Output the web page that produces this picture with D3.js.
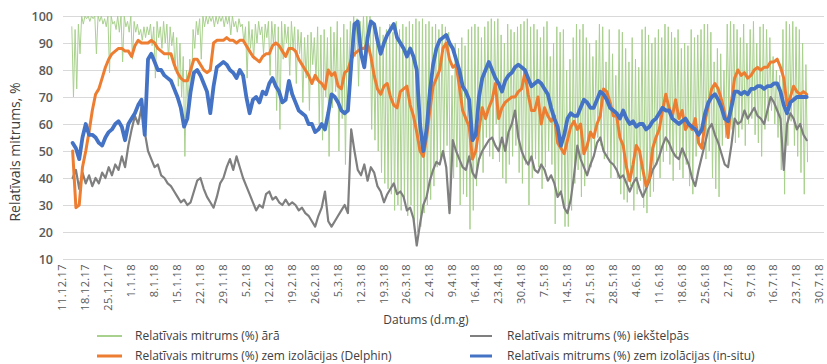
<!DOCTYPE html>
<html><head><meta charset="utf-8">
<script src="https://cdn.jsdelivr.net/npm/d3@7"></script>
<style>
body{margin:0;background:#fff;}
svg{display:block;font-family:"Open Sans",sans-serif;}
</style></head>
<body><svg id="c" width="827" height="364"></svg>
<script>
// first data day: 14.12.2017, one value per day (orange/blue/grey), green: night maximum + day minimum
const firstDay = "14.12.17";
const xTickLabels = ["11.12.17","18.12.17","25.12.17","1.1.18","8.1.18","15.1.18","22.1.18","29.1.18","5.2.18","12.2.18","19.2.18","26.2.18","5.3.18","12.3.18","19.3.18","26.3.18","2.4.18","9.4.18","16.4.18","23.4.18","30.4.18","7.5.18","14.5.18","21.5.18","28.5.18","4.6.18","11.6.18","18.6.18","25.6.18","2.7.18","9.7.18","16.7.18","23.7.18","30.7.18"];
const yTicks = [10,20,30,40,50,60,70,80,90,100];
const seriesNames = ["Relatīvais mitrums (%) ārā","Relatīvais mitrums (%) iekštelpās","Relatīvais mitrums (%) zem izolācijas (Delphin)","Relatīvais mitrums (%) zem izolācijas (in-situ)"];

const outdoorNight = [
96,95,97,100,100,100,100, 100,100,100,99,100,100,98, 100,100,100,98,100,98,97, 95,96,96,97,96,98,96,
98,97,96,94,92,90,85, 80,84,95,98,99,100,100, 100,100,100,100,100,100,100, 100,98,99,97,96,98,95,
97,98,96,97,98,98,97, 96,98,97,96,98,96,95, 94,92,93,94,92,96,93, 95,92,96,94,98,92,97,
95,98,100,99,98,100,100, 100,97,94,96,93,95,97, 94,98,95,97,96,98,97, 99,98,99,97,98,96,97,
95,97,96,94,78,90,88, 92,89,95,96,97,96,92, 96,98,99,98,99,93,90, 97,95,94,96,97,98,99,
96,97,95,92,96,98,85, 90,96,94,95,80,84,92, 97,95,97,92,90,85,91, 97,96,83,95,86,78,95,
94,88,83,92,84,81,95, 96,93,90,92,95,92,97, 96,94,92,95,88,90,89, 95,92,93,95,97,97,94,
83,88,86,80,97,98,97, 95,92,97,90,95,98,90, 96,97,95,92,85,80,78, 95,98,97,98,96,95,90, 82];
const outdoorDay = [
70,73,86,97,99,98,99, 86,98,97,96,79,97,95, 94,83,96,94,84,94,93, 91,92,93,89,77,92,88,
90,84,89,80,74,70,48, 65,71,88,93,84,96,97, 98,96,97,98,96,97,93, 96,94,96,90,77,88,84,
90,93,86,92,78,90,65, 58,84,90,78,88,75,86, 68,77,65,82,76,60,54, 70,48,66,72,50,62,45,
75,80,85,74,88,82,90, 58,54,50,42,38,36,34, 28,30,28,31,26,30,23, 20,22,27,30,32,37,44,
47,47,52,28,40,44,30, 34,33,21,28,37,47,42, 55,48,47,60,46,40,38, 45,48,52,42,38,45,30,
40,47,44,36,44,50,45, 23,33,35,22,22,28,38, 43,33,37,42,44,50,55, 52,47,48,40,45,40,34,
32,31,37,28,34,39,29, 27,33,35,45,40,46,50, 45,39,48,43,40,45,37, 34,48,53,52,47,50,40,
36,33,52,55,62,58,53, 55,58,52,60,62,56,53, 48,58,61,65,60,55,43, 34,52,61,52,48,42,34, 46];
const indoor = [
40,43,36,42,38,41,37, 40,38,42,40,44,41,45, 43,48,44,52,58,63,60, 66,57,50,47,44,45,41,
40,38,37,35,33,31,32, 30,31,35,39,40,36,33, 31,29,33,38,40,44,47, 43,48,44,40,37,34,31,
28,30,29,34,35,32,33, 31,30,32,30,31,30,28, 29,27,26,24,22,26,29, 35,24,22,24,26,28,30,
27,58,50,43,41,45,39, 44,42,37,35,31,34,36, 38,34,35,33,28,29,25, 15,23,30,33,39,43,46,
45,50,44,27,54,50,47, 44,43,48,42,40,47,50, 52,54,55,52,50,55,50, 57,60,65,55,50,47,45,
48,43,42,45,43,39,41, 38,33,35,29,27,32,41, 52,47,44,41,45,48,53, 55,50,48,46,45,43,40,
41,38,35,38,40,36,33, 36,39,43,45,48,52,55, 53,50,48,47,51,48,45, 40,37,43,48,53,58,60,
56,53,49,45,44,52,62, 60,61,65,62,64,66,63, 62,60,65,70,68,65,62, 43,60,64,62,58,60,56, 54];
const delphin = [
50,29,30,44,50,57,65, 71,73,77,81,84,86,87, 88,88,87,87,85,89,91, 90,90,90,91,90,88,87,
86,86,86,82,79,77,76, 76,80,84,84,82,80,79, 80,90,91,91,91,92,91, 91,90,91,91,89,87,85,
84,83,85,86,86,89,90, 89,87,85,88,88,87,84, 82,80,78,75,78,76,75, 73,80,78,79,74,73,79,
80,84,86,87,88,88,90, 85,78,73,71,74,75,70, 67,66,72,73,74,67,63, 57,50,48,55,65,74,77,
80,88,90,84,81,82,74, 65,62,59,47,50,58,66, 62,66,69,75,62,66,68, 69,70,70,72,73,79,71,
65,65,70,60,66,63,61, 63,53,51,49,54,59,61, 58,60,49,52,57,55,60, 63,73,72,68,63,63,55,
52,44,39,45,52,50,43, 37,40,51,55,58,65,71, 66,63,69,62,65,58,60, 58,62,53,51,61,67,73,
75,73,69,64,55,68,77, 80,78,79,77,78,80,81, 80,81,81,83,83,84,81, 77,67,70,74,72,71,72, 71];
const inSitu = [
53,51,47,55,60,56,56, 55,53,52,55,57,58,60, 61,59,54,60,62,64,67, 69,56,84,86,83,80,80,
78,77,76,73,70,66,59, 62,72,79,80,78,75,72, 64,74,81,82,83,82,80, 79,77,80,78,70,64,69,
70,68,72,71,75,77,74, 72,68,69,76,71,68,65, 64,63,60,60,57,58,60, 58,64,71,70,68,65,64,
65,82,97,98,86,81,92, 98,97,91,86,90,93,95, 97,92,90,88,85,88,85, 80,60,50,58,72,82,88,
91,92,93,90,88,84,80, 74,72,69,54,56,70,77, 80,83,80,77,75,72,76, 78,79,81,82,81,80,77,
74,75,76,75,73,71,66, 62,59,52,56,62,64,63, 63,66,69,68,66,66,69, 72,71,69,66,65,64,62,
65,62,60,61,59,60,60, 58,59,61,62,64,66,65, 65,62,61,60,61,62,60, 59,58,56,58,64,68,70,
71,69,66,62,61,66,72, 72,71,72,71,73,73,74, 74,73,74,74,75,75,72, 67,64,68,69,70,70,70, 70];

const colors = ["#a9d18e","#7f7f7f","#ed7d31","#4472c4"];
const widths = [1,2.2,3,3.8];

const parse = d3.utcParse("%d.%m.%y");
const t0 = parse(firstDay);
const dayDate = (i, frac) => new Date(t0.getTime() + (i + (frac||0)) * 864e5);

const svg = d3.select("#c");
const x = d3.scaleUtc().domain([parse(xTickLabels[0]), parse(xTickLabels[xTickLabels.length-1])]).range([62, 819]);
const y = d3.scaleLinear().domain([10,100]).range([259,16]);

// gridlines
svg.append("g").selectAll("line").data(yTicks).join("line")
  .attr("x1",63).attr("x2",824).attr("y1",d=>y(d)).attr("y2",d=>y(d))
  .attr("stroke","#d9d9d9").attr("stroke-width",1).attr("shape-rendering","crispEdges");

// y axis
const ya = svg.append("g").attr("transform","translate(56,0)")
  .call(d3.axisLeft(y).tickValues(yTicks).tickSize(0).tickPadding(3));
ya.select(".domain").remove();
ya.selectAll("text").attr("font-family","'Open Sans',sans-serif").attr("font-size",12.5)
  .attr("font-weight",600).attr("fill","#595959");

// x axis
const xa = svg.append("g").attr("transform","translate(0,259)")
  .call(d3.axisBottom(x).tickValues(xTickLabels.map(parse)).tickFormat((d,i)=>xTickLabels[i]).tickSize(0));
xa.select(".domain").remove();
xa.selectAll("text").attr("transform","rotate(-90)").attr("text-anchor","end")
  .attr("x",-5).attr("y",0).attr("dy","0.35em")
  .attr("font-family","'Open Sans',sans-serif").attr("font-size",11).attr("letter-spacing","0.4px").attr("fill","#595959");

// series data
const green = [];
outdoorNight.forEach((v,i)=>{ green.push([dayDate(i,0),v]); green.push([dayDate(i,0.5),outdoorDay[i]]); });
const daily = arr => arr.map((v,i)=>[dayDate(i,0.25),v]);
const all = [green, daily(indoor), daily(delphin), daily(inSitu)];

const line = d3.line().x(d=>x(d[0])).y(d=>y(d[1]));
svg.append("g").selectAll("path").data(all).join("path")
  .attr("d",line).attr("fill","none")
  .attr("stroke",(d,i)=>colors[i]).attr("stroke-width",(d,i)=>widths[i])
  .attr("stroke-linejoin","round").attr("stroke-linecap","round");

// axis titles
svg.append("text").attr("transform","translate(20,152) rotate(-90)").attr("text-anchor","middle")
  .attr("font-size",14).attr("fill","#404040").text("Relatīvais mitrums, %");
svg.append("text").attr("x",426).attr("y",324).attr("text-anchor","middle")
  .attr("font-size",12).attr("fill","#404040").text("Datums (d.m.g)");

// legend
const legPos = [[97,336],[470,336],[97,356],[470,356]];
const lg = svg.append("g").selectAll("g").data(seriesNames).join("g")
  .attr("transform",(d,i)=>`translate(${legPos[i][0]},${legPos[i][1]})`);
lg.append("line").attr("x1",0).attr("x2",(d,i)=>i%2?22:25).attr("y1",0).attr("y2",0)
  .attr("stroke",(d,i)=>colors[i]).attr("stroke-width",(d,i)=>i===3||i===2?3:2);
lg.append("text").attr("x",(d,i)=>i%2?37:38).attr("y",4).attr("font-size",12).attr("fill","#404040").text(d=>d);
</script></body></html>
